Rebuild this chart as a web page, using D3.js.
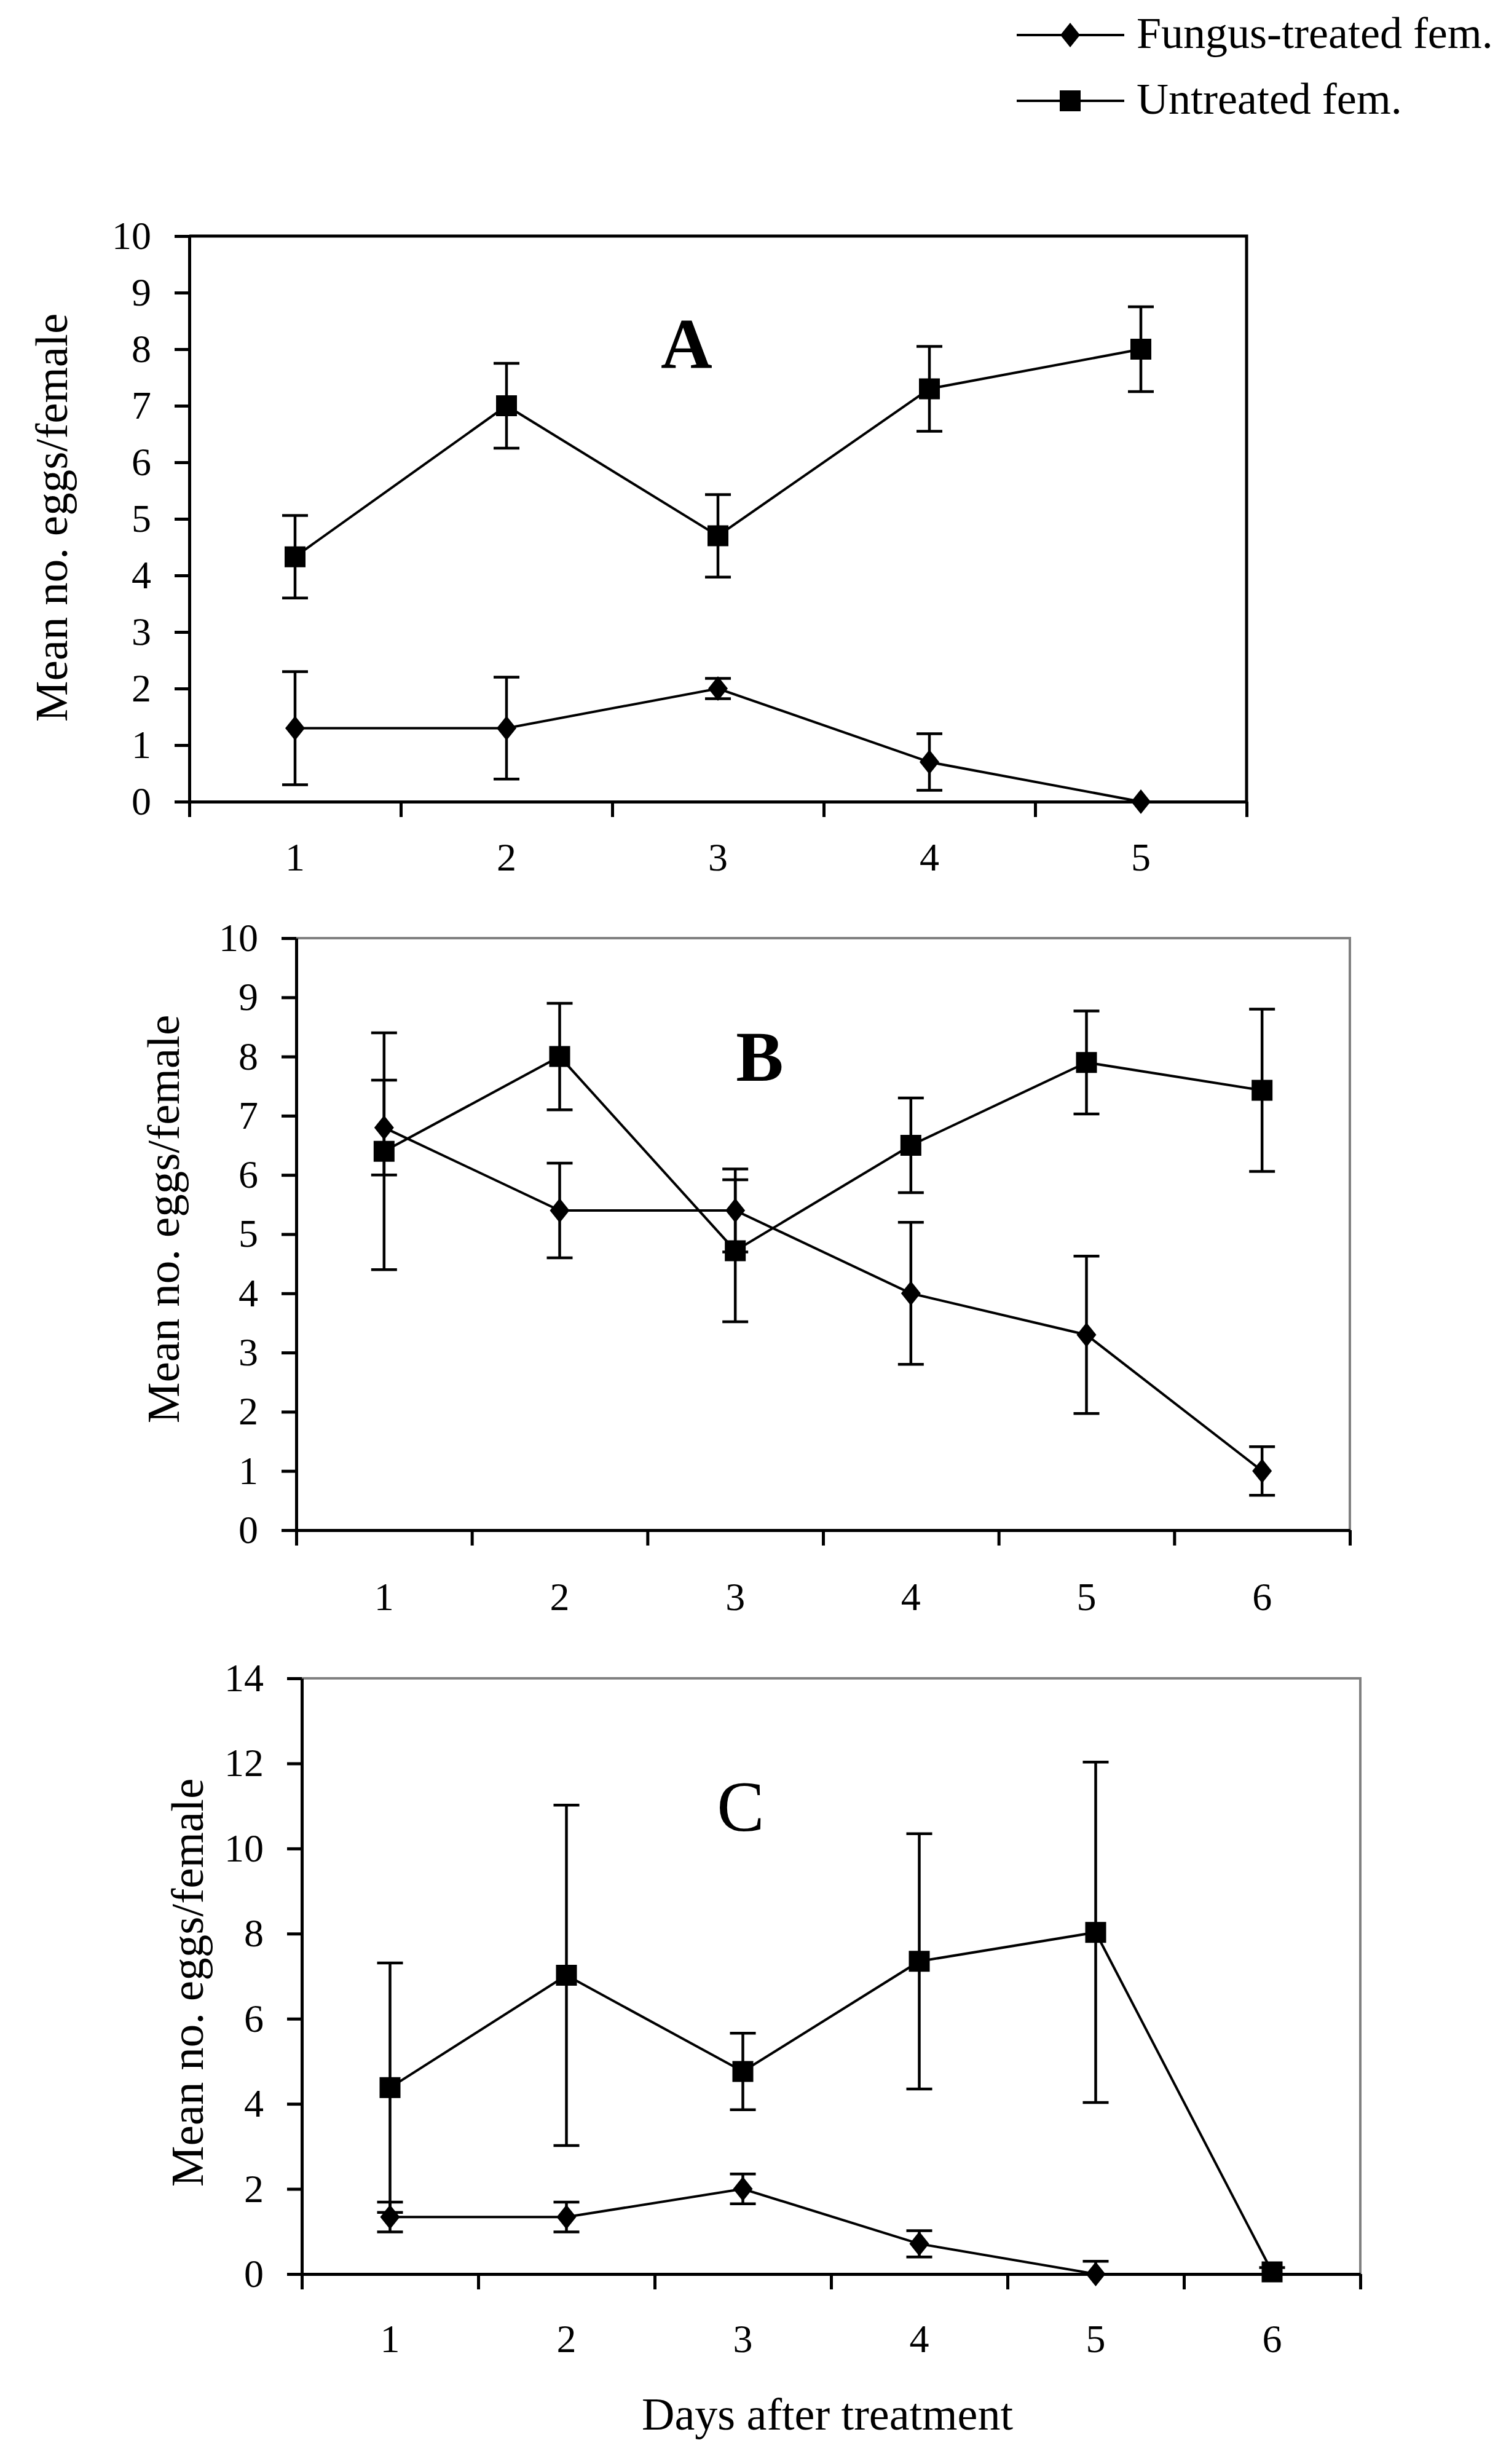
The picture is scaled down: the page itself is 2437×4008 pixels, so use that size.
<!DOCTYPE html>
<html>
<head>
<meta charset="utf-8">
<script src="https://cdn.jsdelivr.net/npm/d3@7"></script>
<style>
  body { margin: 0; background: #fff; }
  svg { display: block; }
</style>
</head>
<body>
<div id="container"></div>
<script>
// days on the x axis of each panel
let days_a = [1, 2, 3, 4, 5]
let days_b = [1, 2, 3, 4, 5, 6]
let days_c = [1, 2, 3, 4, 5, 6]

// mean eggs per female and the error bar half length
let fungus_a = [1.3, 1.3, 2.0, 0.7, 0]
let fungus_err_a = [1.0, 0.9, 0.18, 0.5, 0]
let untreated_a = [4.33, 7.0, 4.7, 7.3, 8.0]
let untreated_err_a = [0.73, 0.75, 0.73, 0.75, 0.75]

let fungus_b = [6.8, 5.4, 5.4, 4.0, 3.3, 1.0]
let fungus_err_b = [0.8, 0.8, 0.7, 1.2, 1.33, 0.41]
let untreated_b = [6.4, 8.0, 4.72, 6.5, 7.9, 7.43]
let untreated_err_b = [2.0, 0.9, 1.2, 0.8, 0.87, 1.37]

let fungus_c = [1.34, 1.34, 2.0, 0.71, 0, null]
let fungus_err_c = [0.35, 0.35, 0.35, 0.31, 0.3, null]
let untreated_c = [4.38, 7.02, 4.76, 7.35, 8.03, 0.05]
let untreated_err_c = [2.93, 4.0, 0.9, 3.0, 4.0, 0.1]

let y_ticks_ab = [0, 1, 2, 3, 4, 5, 6, 7, 8, 9, 10]
let y_ticks_c = [0, 2, 4, 6, 8, 10, 12, 14]

let panel_letters = ['A', 'B', 'C']
let legend_labels = ['Fungus-treated fem.', 'Untreated fem.']
let y_title = 'Mean no. eggs/female'
let x_title = 'Days after treatment'

window.addEventListener('load', () => {
  let W = 2437, H = 4008
  let serif = "'Liberation Serif', 'Times New Roman', serif"

  let svg = d3.select('#container')
    .append('svg')
    .attr('width', W)
    .attr('height', H)
    .attr('xmlns', 'http://www.w3.org/2000/svg')

  svg.append('rect')
    .attr('width', W).attr('height', H)
    .attr('fill', '#fff')

  // marker shapes, centred on the point
  let diamond = 'M0,-20L16,0L0,20L-16,0Z'
  let square = 'M-17,-17H17V17H-17Z'

  let panels = [
    {
      days: days_a, fungus: fungus_a, fungus_err: fungus_err_a,
      untreated: untreated_a, untreated_err: untreated_err_a,
      y_ticks: y_ticks_ab, letter: panel_letters[0], bold: true,
      left: 308, right: 2028, top: 384, bottom: 1304,
      frame: '#000', letter_x: 1117, letter_y: 598,
      title_x: 109, title_y: 842, label_dy: 112
    },
    {
      days: days_b, fungus: fungus_b, fungus_err: fungus_err_b,
      untreated: untreated_b, untreated_err: untreated_err_b,
      y_ticks: y_ticks_ab, letter: panel_letters[1], bold: true,
      left: 482, right: 2196, top: 1526, bottom: 2489,
      frame: '#808080', letter_x: 1236, letter_y: 1758,
      title_x: 291, title_y: 1983, label_dy: 130
    },
    {
      days: days_c, fungus: fungus_c, fungus_err: fungus_err_c,
      untreated: untreated_c, untreated_err: untreated_err_c,
      y_ticks: y_ticks_c, letter: panel_letters[2], bold: false,
      left: 491, right: 2213, top: 2730, bottom: 3699,
      frame: '#808080', letter_x: 1205, letter_y: 2978,
      title_x: 330, title_y: 3225, label_dy: 127
    }
  ]

  panels.forEach((p, pi) => {
    let n = p.days.length
    let x = d3.scaleLinear()
      .domain([0.5, n + 0.5])
      .range([p.left, p.right])
    let y = d3.scaleLinear()
      .domain([0, d3.max(p.y_ticks)])
      .range([p.bottom, p.top])

    let g = svg.append('g')

    // top and right border
    g.append('path')
      .attr('d', `M${p.left},${p.top}H${p.right}V${p.bottom}`)
      .attr('fill', 'none')
      .attr('stroke', p.frame)
      .attr('stroke-width', p.frame == '#000' ? 5 : 4)

    // x axis: ticks between the days, labels on the days
    let bounds = d3.range(0, n + 1).map(i => i + 0.5)
    let xa = g.append('g')
      .attr('transform', `translate(0,${p.bottom})`)
      .call(d3.axisBottom(x).tickValues(bounds).tickFormat('')
        .tickSize(25).tickSizeOuter(0))
    xa.select('.domain').attr('stroke-width', 5)
    xa.selectAll('.tick line').attr('stroke-width', 5)

    g.selectAll('.xlab')
      .data(p.days)
      .join('text')
      .attr('class', 'xlab')
      .attr('x', d => x(d))
      .attr('y', p.bottom + p.label_dy)
      .attr('text-anchor', 'middle')
      .attr('font-family', serif)
      .attr('font-size', 64)
      .text(d => d)

    // y axis
    let ya = g.append('g')
      .attr('transform', `translate(${p.left},0)`)
      .call(d3.axisLeft(y).tickValues(p.y_ticks)
        .tickSize(24).tickSizeOuter(0).tickPadding(38))
    ya.attr('font-family', serif).attr('font-size', 64)
    ya.select('.domain').attr('stroke-width', 5)
    ya.selectAll('.tick line').attr('stroke-width', 5)
    ya.selectAll('.tick text').attr('fill', '#000')

    g.append('text')
      .attr('transform', `translate(${p.title_x},${p.title_y}) rotate(-90)`)
      .attr('text-anchor', 'middle')
      .attr('font-family', serif)
      .attr('font-size', 75)
      .text(y_title)

    g.append('text')
      .attr('x', p.letter_x)
      .attr('y', p.letter_y)
      .attr('text-anchor', 'middle')
      .attr('font-family', serif)
      .attr('font-weight', p.bold ? 'bold' : 'normal')
      .attr('font-size', 116)
      .text(p.letter)

    // clip for the error bars
    let clip_id = 'clip' + pi
    svg.append('clipPath').attr('id', clip_id)
      .append('rect')
      .attr('x', p.left).attr('y', p.top)
      .attr('width', p.right - p.left)
      .attr('height', p.bottom - p.top)

    let series = [
      { v: p.untreated, e: p.untreated_err, shape: square },
      { v: p.fungus, e: p.fungus_err, shape: diamond }
    ]

    series.forEach(s => {
      let pts = p.days.map((d, i) => ({ d: d, v: s.v[i], e: s.e[i] }))
        .filter(o => o.v != null)

      let line = d3.line()
        .x(o => x(o.d))
        .y(o => y(o.v))
      g.append('path')
        .attr('d', line(pts))
        .attr('fill', 'none')
        .attr('stroke', '#000')
        .attr('stroke-width', 4)

      let bars = g.append('g')
        .attr('clip-path', `url(#${clip_id})`)
        .attr('stroke', '#000')
        .attr('stroke-width', 4.5)
        .attr('fill', 'none')
      pts.filter(o => o.e > 0).forEach(o => {
        let cx = x(o.d), y1 = y(o.v + o.e), y0 = y(o.v - o.e)
        bars.append('path')
          .attr('d', `M${cx},${y1}V${y0}M${cx - 21},${y1}H${cx + 21}M${cx - 21},${y0}H${cx + 21}`)
      })

      g.selectAll(null)
        .data(pts)
        .join('path')
        .attr('d', s.shape)
        .attr('transform', o => `translate(${x(o.d)},${y(o.v)})`)
        .attr('fill', '#000')
    })
  })

  // x axis title under the last panel
  svg.append('text')
    .attr('x', 1346)
    .attr('y', 3952)
    .attr('text-anchor', 'middle')
    .attr('font-family', serif)
    .attr('font-size', 74)
    .text(x_title)

  // legend, top right
  let legend = svg.append('g')
  let legend_shapes = [diamond, square]
  let legend_rows = [57, 164]
  legend_labels.forEach((lab, i) => {
    let ly = legend_rows[i]
    legend.append('line')
      .attr('x1', 1654).attr('x2', 1829)
      .attr('y1', ly).attr('y2', ly)
      .attr('stroke', '#000')
      .attr('stroke-width', 4)
    legend.append('path')
      .attr('d', legend_shapes[i])
      .attr('transform', `translate(1741,${ly})`)
      .attr('fill', '#000')
    legend.append('text')
      .attr('x', 1849)
      .attr('y', ly + 21)
      .attr('font-family', serif)
      .attr('font-size', 72)
      .text(lab)
  })
})
</script>
</body>
</html>
